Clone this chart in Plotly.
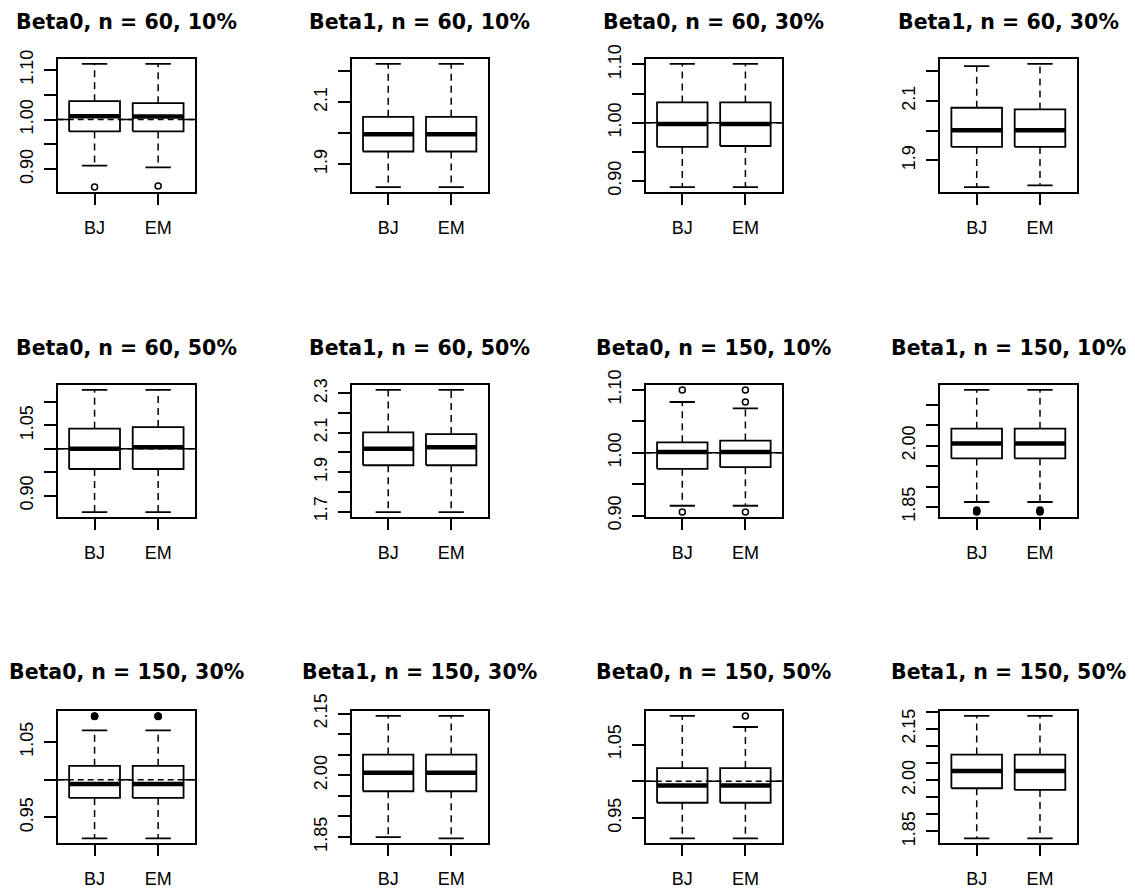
import plotly.graph_objects as go

methods = ["BJ", "EM"]
panel_titles = [
    "Beta0, n = 60, 10%", "Beta1, n = 60, 10%", "Beta0, n = 60, 30%", "Beta1, n = 60, 30%",
    "Beta0, n = 60, 50%", "Beta1, n = 60, 50%", "Beta0, n = 150, 10%", "Beta1, n = 150, 10%",
    "Beta0, n = 150, 30%", "Beta1, n = 150, 30%", "Beta0, n = 150, 50%", "Beta1, n = 150, 50%",
]

# per panel: [BJ, EM]
lower_whisker = [
    [0.907, 0.9035], [1.826, 1.826], [0.8895, 0.8895], [1.8105, 1.816],
    [0.865, 0.865], [1.697, 1.697], [0.9157, 0.9157], [1.8623, 1.8623],
    [0.9223, 0.9223], [1.850, 1.8467], [0.922, 0.922], [1.8297, 1.8297],
]
q1 = [
    [0.976, 0.976], [1.941, 1.941], [0.9584, 0.960], [1.9454, 1.9454],
    [0.957, 0.957], [1.935, 1.935], [0.9744, 0.977], [1.9689, 1.9689],
    [0.9759, 0.9759], [1.9612, 1.9612], [0.9706, 0.9706], [1.9764, 1.9715],
]
median = [
    [1.0068, 1.006], [1.997, 1.997], [0.9977, 0.9977], [2.001, 2.001],
    [1.000, 1.0036], [2.0187, 2.027], [1.001, 1.001], [2.0057, 2.0057],
    [0.9942, 0.9942], [2.0061, 2.0061], [0.994, 0.994], [2.0266, 2.0266],
]
q3 = [
    [1.037, 1.033], [2.053, 2.053], [1.0348, 1.0348], [2.0769, 2.0713],
    [1.0429, 1.0464], [2.102, 2.0935], [1.0165, 1.0192], [2.0418, 2.0418],
    [1.0183, 1.0183], [2.0503, 2.0503], [1.0179, 1.0179], [2.0748, 2.0748],
]
upper_whisker = [
    [1.112, 1.112], [2.224, 2.224], [1.1009, 1.1009], [2.2163, 2.224],
    [1.1257, 1.1257], [2.318, 2.318], [1.0805, 1.0704], [2.1369, 2.1369],
    [1.0652, 1.0652], [2.1443, 2.1443], [1.089, 1.0739], [2.188, 2.188],
]
outliers = [
    [[0.864], [0.866]], [[], []], [[], []], [[], []],
    [[], []], [[], []], [[1.0997, 0.9056], [1.0997, 1.0805, 0.9056]],
    [[1.8375, 1.840, 1.8425], [1.8375, 1.840, 1.8425]],
    [[1.0836, 1.0840, 1.0844], [1.0836, 1.0840, 1.0844]], [[], []], [[], [1.089]], [[], []],
]
reference_value = [1.0, None, 1.0, None, 1.0, None, 1.0, None, 1.0, None, 1.0, None]

y_ticks = [
    [0.90, 0.95, 1.00, 1.05, 1.10], [1.9, 2.0, 2.1, 2.2],
    [0.90, 0.95, 1.00, 1.05, 1.10], [1.9, 2.0, 2.1, 2.2],
    [0.90, 0.95, 1.00, 1.05, 1.10], [1.7, 1.8, 1.9, 2.0, 2.1, 2.2, 2.3],
    [0.90, 0.95, 1.00, 1.05, 1.10], [1.85, 1.90, 1.95, 2.00, 2.05, 2.10],
    [0.95, 1.00, 1.05], [1.85, 1.90, 1.95, 2.00, 2.05, 2.10, 2.15],
    [0.95, 1.00, 1.05], [1.85, 1.90, 1.95, 2.00, 2.05, 2.10, 2.15, 2.20],
]
y_tick_labels = [
    ["0.90", "", "1.00", "", "1.10"], ["1.9", "", "2.1", ""],
    ["0.90", "", "1.00", "", "1.10"], ["1.9", "", "2.1", ""],
    ["0.90", "", "", "1.05", ""], ["1.7", "", "1.9", "", "2.1", "", "2.3"],
    ["0.90", "", "1.00", "", "1.10"], ["1.85", "", "", "2.00", "", ""],
    ["0.95", "", "1.05"], ["1.85", "", "", "2.00", "", "", "2.15"],
    ["0.95", "", "1.05"], ["1.85", "", "", "2.00", "", "", "2.15", ""],
]

# ---- layout (target pixels in the 1135 x 888 window) ----
W, H = 1135, 888
PAGE_OFFSET = 8  # default body margin of the html page
col_px = [(57.7, 195.0), (351.7, 487.7), (645.7, 782.0), (940.0, 1076.7)]
row_px = [(59.0, 192.0), (385.0, 517.0), (711.0, 843.3)]
title_y_px = [22.0, 347.5, 672.0]


def fx(px):
    return (px - PAGE_OFFSET) / W


def fy(px):
    return 1 - (px - PAGE_OFFSET) / H


BOX_HALF = 0.4
STAPLE_HALF = 0.2
FONT = "Liberation Sans, Arial, sans-serif"
TITLE_FONT = "DejaVu Sans, Liberation Sans, sans-serif"

fig = go.Figure()
layout = dict(
    width=W, height=H, autosize=False,
    margin=dict(l=0, r=0, t=0, b=0, pad=0),
    paper_bgcolor="white", plot_bgcolor="white",
    showlegend=False, shapes=[], annotations=[],
)

for i in range(12):
    r, c = divmod(i, 4)
    ax = "" if i == 0 else str(i + 1)
    xref, yref = "x" + ax, "y" + ax
    x0, x1 = col_px[c]
    y0, y1 = row_px[r]

    vals = []
    for k in range(2):
        vals += [lower_whisker[i][k], upper_whisker[i][k]] + outliers[i][k]
    lo, hi = min(vals), max(vals)
    pad = 0.04 * (hi - lo)

    common = dict(showgrid=False, zeroline=False, showline=True, mirror=True,
                  linecolor="black", linewidth=1.8, ticks="outside",
                  tickcolor="black", tickwidth=1.5, automargin=False,
                  tickfont=dict(family=FONT, size=18, color="black"), fixedrange=True)
    layout["xaxis" + ax] = dict(
        domain=[fx(x0), fx(x1)], anchor=yref, range=[0.42, 2.58],
        tickmode="array", tickvals=[1, 2], ticktext=methods, ticklen=11,
        ticklabelstandoff=7, **common)
    layout["yaxis" + ax] = dict(
        domain=[fy(y1), fy(y0)], anchor=xref, range=[lo - pad, hi + pad],
        tickmode="array", tickvals=y_ticks[i], ticktext=y_tick_labels[i],
        tickangle=-90, ticklen=12, ticklabelstandoff=4, **common)

    if reference_value[i] is not None:
        for layer, dash in (("below", "solid"), ("above", "6px,4px")):
            layout["shapes"].append(dict(
                type="line", xref=xref + " domain", yref=yref, x0=0, x1=1,
                y0=reference_value[i], y1=reference_value[i], layer=layer,
                line=dict(color="black", width=1.5, dash=dash)))

    layout["annotations"].append(dict(
        text="<b>" + panel_titles[i] + "</b>", xref="paper", yref="paper",
        x=(fx(x0) + fx(x1)) / 2, y=fy(title_y_px[r]), xanchor="center", yanchor="middle",
        showarrow=False, font=dict(family=TITLE_FONT, size=20.5, color="black")))

    span = (hi + pad) - (lo - pad)
    for k in range(2):
        cx = k + 1
        # whiskers (dashed)
        fig.add_trace(go.Scatter(
            x=[cx, cx, None, cx, cx],
            y=[q3[i][k], upper_whisker[i][k], None, q1[i][k], lower_whisker[i][k]],
            mode="lines", line=dict(color="black", width=1.5, dash="7px,5px"),
            xaxis=xref, yaxis=yref, hoverinfo="skip"))
        # staples
        fig.add_trace(go.Scatter(
            x=[cx - STAPLE_HALF, cx + STAPLE_HALF, None, cx - STAPLE_HALF, cx + STAPLE_HALF],
            y=[upper_whisker[i][k]] * 2 + [None] + [lower_whisker[i][k]] * 2,
            mode="lines", line=dict(color="black", width=1.8),
            xaxis=xref, yaxis=yref, hoverinfo="skip"))
        # box
        fig.add_trace(go.Scatter(
            x=[cx - BOX_HALF, cx + BOX_HALF, cx + BOX_HALF, cx - BOX_HALF, cx - BOX_HALF],
            y=[q1[i][k], q1[i][k], q3[i][k], q3[i][k], q1[i][k]],
            mode="lines", fill="toself", fillcolor="white",
            line=dict(color="black", width=1.8),
            xaxis=xref, yaxis=yref, hoverinfo="skip"))
        # median
        fig.add_trace(go.Scatter(
            x=[cx - BOX_HALF, cx + BOX_HALF], y=[median[i][k]] * 2,
            mode="lines", line=dict(color="black", width=4.5),
            xaxis=xref, yaxis=yref, hoverinfo="skip"))
        # outliers: single points as open circles, tight clusters look like filled dots
        pts = outliers[i][k]
        if pts:
            cluster = len(pts) > 1 and (max(pts) - min(pts)) < 0.05 * span
            fig.add_trace(go.Scatter(
                x=[cx] * len(pts), y=pts, mode="markers",
                marker=dict(symbol="circle" if cluster else "circle-open",
                            size=6, color="black",
                            line=dict(width=1.5, color="black")),
                xaxis=xref, yaxis=yref, hoverinfo="skip", cliponaxis=False))

fig.update_layout(**layout)
fig.write_html("out.html")
